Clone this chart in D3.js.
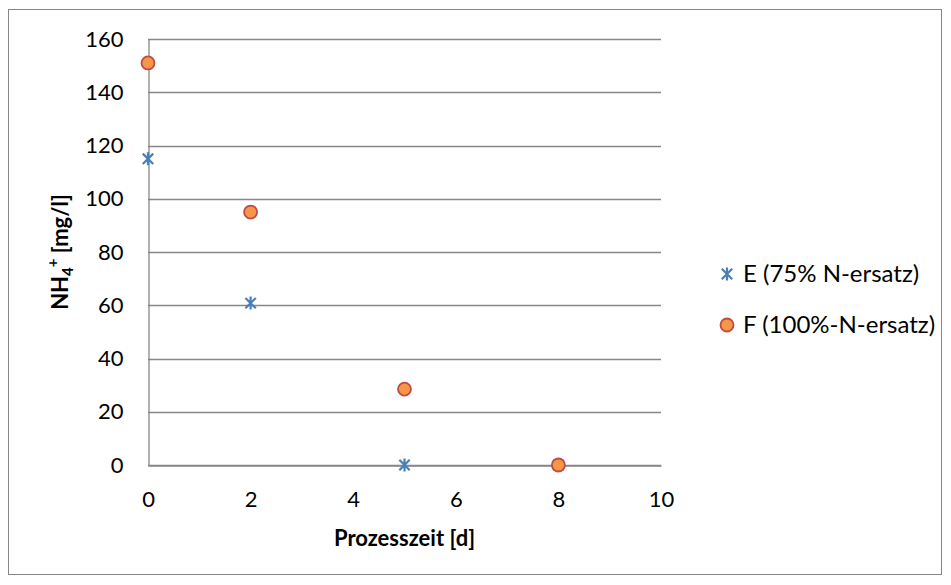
<!DOCTYPE html>
<html>
<head>
<meta charset="utf-8">
<script src="https://cdn.jsdelivr.net/npm/d3@7"></script>
<style>
  html, body { margin: 0; padding: 0; background: #fff; }
  svg text { font-family: Lato, "Open Sans", "Liberation Sans", sans-serif; fill: #000; }
</style>
</head>
<body>
<svg id="chart" width="951" height="585"></svg>
<script>
// Process time in days
const days = [0, 2, 5, 8];
// NH4+ concentration [mg/l]
const seriesE = [115, 60.8, 0, 0];     // E (75% N-ersatz)
const seriesF = [151, 95, 28.5, 0];    // F (100%-N-ersatz)
const xTicks = [0, 2, 4, 6, 8, 10];
const yTicks = [0, 20, 40, 60, 80, 100, 120, 140, 160];
const legendLabels = ["E (75% N-ersatz)", "F (100%-N-ersatz)"];

const svg = d3.select("#chart");
const gridColor = "#878787";
const fontStack = "Lato, 'Open Sans', sans-serif";

// outer chart frame
svg.append("rect")
  .attr("x", 8.5).attr("y", 9.5)
  .attr("width", 933).attr("height", 565)
  .attr("fill", "#fff").attr("stroke", gridColor).attr("stroke-width", 1);

const x = d3.scaleLinear().domain([0, 10]).range([148, 661]);
const y = d3.scaleLinear().domain([0, 160]).range([465, 39]);

// horizontal gridlines
svg.append("g")
  .selectAll("line")
  .data(yTicks)
  .join("line")
  .attr("x1", x(0)).attr("x2", x(10))
  .attr("y1", d => Math.round(y(d)) + 0.5).attr("y2", d => Math.round(y(d)) + 0.5)
  .attr("stroke", gridColor).attr("stroke-width", 1.3);

// y axis
const yAxis = svg.append("g")
  .attr("transform", `translate(${Math.round(x(0)) + 0.5},0)`)
  .call(d3.axisLeft(y).tickValues(yTicks).tickSize(0).tickPadding(25));
yAxis.select(".domain").attr("stroke", gridColor).attr("stroke-width", 1.3);
yAxis.selectAll("text").attr("font-size", 22).style("font-family", fontStack);

// x axis
const xAxis = svg.append("g")
  .attr("transform", `translate(0,${Math.round(y(0)) + 0.5})`)
  .call(d3.axisBottom(x).tickValues(xTicks).tickSize(0).tickPadding(26));
xAxis.select(".domain").attr("stroke", gridColor).attr("stroke-width", 1.3);
xAxis.selectAll("text").attr("font-size", 22).style("font-family", fontStack);

// axis titles
svg.append("text")
  .attr("x", (x(0) + x(10)) / 2).attr("y", 546)
  .attr("text-anchor", "middle")
  .attr("font-size", 22).attr("font-weight", "bold")
  .text("Prozesszeit [d]");

const yTitle = svg.append("text")
  .attr("transform", `translate(68,${(y(0) + y(160)) / 2}) rotate(-90)`)
  .attr("text-anchor", "middle")
  .attr("font-size", 22).attr("font-weight", "bold");
yTitle.append("tspan").text("NH");
yTitle.append("tspan").attr("font-size", 15).attr("dy", 5).text("4");
yTitle.append("tspan").attr("font-size", 15).attr("dy", -15).text("+");
yTitle.append("tspan").attr("dy", 10).text(" [mg/l]");

// asterisk marker path
function starPath(cx, cy, r) {
  const d = r * 0.8;
  return `M${cx - d},${cy - d}L${cx + d},${cy + d}M${cx - d},${cy + d}L${cx + d},${cy - d}M${cx},${cy - r}L${cx},${cy + r}`;
}

const blue = "#4A7EBB";
const circFill = "#F79646";
const circStroke = "#BE4B48";

// series E
svg.append("g")
  .selectAll("path")
  .data(days.map((d, i) => [d, seriesE[i]]))
  .join("path")
  .attr("d", d => starPath(x(d[0]), y(d[1]), 6.5))
  .attr("stroke", blue).attr("stroke-width", 2.2).attr("fill", "none");

// series F
svg.append("g")
  .selectAll("circle")
  .data(days.map((d, i) => [d, seriesF[i]]))
  .join("circle")
  .attr("cx", d => x(d[0])).attr("cy", d => y(d[1]))
  .attr("r", 6.5)
  .attr("fill", circFill).attr("stroke", circStroke).attr("stroke-width", 1.8);

// legend
const legend = svg.append("g");
const legY = [274, 325];
legend.append("path")
  .attr("d", starPath(727, legY[0], 6.5))
  .attr("stroke", blue).attr("stroke-width", 2.2).attr("fill", "none");
legend.append("circle")
  .attr("cx", 727).attr("cy", legY[1]).attr("r", 6.5)
  .attr("fill", circFill).attr("stroke", circStroke).attr("stroke-width", 1.8);
legend.selectAll("text.lbl")
  .data(legendLabels)
  .join("text")
  .attr("class", "lbl")
  .attr("x", 743).attr("y", (d, i) => legY[i])
  .attr("dy", "0.35em")
  .attr("font-size", 24)
  .style("font-family", fontStack)
  .text(d => d);
</script>
</body>
</html>
